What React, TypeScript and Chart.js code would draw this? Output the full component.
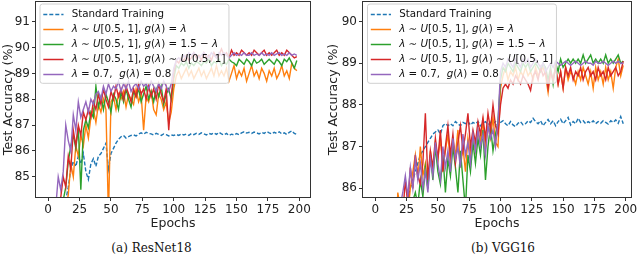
import React, { useEffect, useRef } from 'react';
import { Chart, registerables } from 'chart.js';

Chart.register(...registerables);

// ---------- data ----------
const EPOCHS = [
  0, 2, 4, 6, 8, 10, 12, 14, 16, 18,
  20, 22, 24, 26, 28, 30, 32, 34, 36, 38,
  40, 42, 44, 46, 48, 50, 52, 54, 56, 58,
  60, 62, 64, 66, 68, 70, 72, 74, 76, 78,
  80, 82, 84, 86, 88, 90, 92, 94, 96, 98,
  100, 102, 104, 106, 108, 110, 112, 114, 116, 118,
  120, 122, 124, 126, 128, 130, 132, 134, 136, 138,
  140, 142, 144, 146, 148, 150, 152, 154, 156, 158,
  160, 162, 164, 166, 168, 170, 172, 174, 176, 178,
  180, 182, 184, 186, 188, 190, 192, 194, 196, 198,
];

const SERIES_LABELS = [
  'Standard Training',
  'λ ∼ U[0.5, 1], g(λ) = λ',
  'λ ∼ U[0.5, 1], g(λ) = 1.5 − λ',
  'λ ∼ U[0.5, 1], g(λ) ∼ U[0.5, 1]',
  'λ = 0.7,  g(λ) = 0.8',
];
const SERIES_COLORS = ['#1f77b4', '#ff7f0e', '#2ca02c', '#d62728', '#9467bd'];

const X_TICKS = [0, 25, 50, 75, 100, 125, 150, 175, 200];
const RESNET_Y_TICKS = [85, 86, 87, 88, 89, 90, 91];
const VGG_Y_TICKS = [86, 87, 88, 89, 90];

// ResNet18
const RESNET_STD = [
  80.0, 81.6, 82.6, 83.2, 83.6, 83.9, 84.0, 84.1, 84.6, 85.3,
  85.6, 85.4, 85.8, 85.5, 85.9, 85.2, 84.9, 85.5, 85.7, 85.4,
  85.8, 85.9, 86.1, 86.3, 85.3, 85.9, 86.1, 86.3, 86.45, 86.55,
  86.6, 86.5, 86.55, 86.6, 86.62, 86.58, 86.65, 86.7, 86.65, 86.72,
  86.68, 86.66, 86.62, 86.68, 86.64, 86.6, 86.66, 86.63, 86.58, 86.62,
  86.6, 86.64, 86.6, 86.66, 86.62, 86.65, 86.6, 86.67, 86.63, 86.68,
  86.64, 86.7, 86.66, 86.62, 86.68, 86.65, 86.7, 86.64, 86.72, 86.66,
  86.62, 86.68, 86.6, 86.65, 86.62, 86.67, 86.63, 86.7, 86.74, 86.69,
  86.72, 86.68, 86.73, 86.7, 86.66, 86.72, 86.68, 86.75, 86.7, 86.66,
  86.72, 86.68, 86.74, 86.66, 86.7, 86.64, 86.72, 86.78, 86.68, 86.64,
];
const RESNET_LAM = [
  78.0, 79.5, 80.5, 81.5, 82.3, 83.0, 83.5, 83.8, 84.3, 85.5,
  85.0, 86.2, 85.8, 86.6, 86.2, 87.0, 86.5, 87.3, 87.6, 87.1,
  87.8, 87.5, 88.0, 87.6, 83.5, 87.9, 88.1, 87.6, 88.2, 88.0,
  88.3, 87.7, 88.2, 88.0, 87.8, 88.4, 87.9, 88.2, 86.8, 88.1,
  87.9, 88.3, 87.6, 87.4, 88.2, 88.0, 87.6, 87.9, 87.1, 87.5,
  88.4, 88.9, 89.1, 88.8, 89.0, 89.2, 88.9, 89.1, 88.8, 89.0,
  89.2, 88.9, 89.1, 88.8, 89.0, 89.2, 88.9, 89.3, 88.9, 89.1,
  88.9, 89.2, 88.7, 89.0, 89.3, 88.8, 89.1, 88.9, 89.2, 88.7,
  89.0, 89.3, 88.9, 89.1, 88.8, 89.2, 89.0, 88.7, 89.1, 88.9,
  89.2, 88.8, 89.0, 89.3, 88.9, 89.1, 88.8, 89.4, 89.2, 89.1,
];
const RESNET_LIN = [
  78.0, 79.5, 80.8, 82.0, 83.0, 83.6, 84.1, 84.6, 85.6, 86.2,
  86.6, 86.1, 86.9, 84.5, 86.8, 87.2, 86.9, 87.5, 87.3, 88.5,
  87.7, 88.1, 87.6, 88.2, 87.9, 87.5, 88.2, 88.0, 87.6, 88.3,
  87.9, 88.4, 88.0, 87.7, 88.3, 88.1, 88.4, 87.9, 88.2, 88.5,
  88.0, 88.3, 87.9, 88.4, 88.1, 88.5, 87.8, 88.2, 88.4, 88.0,
  88.8, 89.3, 89.2, 89.4, 89.3, 89.45, 89.2, 89.4, 89.3, 89.45,
  89.4, 89.3, 89.45, 89.4, 89.55, 89.3, 89.45, 89.4, 89.55, 89.3,
  89.45, 89.35, 89.55, 89.45, 89.4, 89.3, 89.55, 89.45, 89.35, 89.55,
  89.45, 89.3, 89.55, 89.4, 89.45, 89.55, 89.35, 89.45, 89.55, 89.45,
  89.35, 89.55, 89.45, 89.3, 89.55, 89.45, 89.6, 89.4, 89.2, 89.5,
];
const RESNET_UNI = [
  79.0, 80.5, 81.8, 83.0, 83.8, 84.2, 85.0, 84.6, 85.8, 85.3,
  86.8, 86.2, 87.0, 86.6, 87.5, 87.2, 87.6, 87.3, 87.9, 87.6,
  88.2, 87.8, 88.4, 88.0, 87.7, 88.3, 88.0, 88.5, 88.1, 88.4,
  88.0, 88.5, 88.2, 87.9, 88.4, 88.1, 88.6, 88.2, 88.4, 88.0,
  88.5, 88.1, 88.4, 88.0, 88.6, 88.2, 87.9, 88.4, 86.8, 88.1,
  89.0, 89.5, 89.4, 89.6, 89.5, 89.7, 89.5, 89.6, 89.8, 89.6,
  89.7, 89.5, 89.8, 89.6, 89.7, 89.5, 89.8, 89.6, 89.7, 89.95,
  89.7, 89.8, 89.6, 89.9, 89.7, 89.8, 89.7, 89.9, 89.8, 89.7,
  89.8, 89.7, 89.9, 89.8, 89.7, 89.8, 89.9, 89.7, 89.8, 89.7,
  89.8, 89.9, 89.7, 89.8, 89.7, 89.9, 89.8, 89.7, 89.6, 89.65,
];
const RESNET_FIX = [
  80.0, 81.5, 82.8, 83.8, 85.0, 84.5, 85.2, 87.0, 86.4, 86.0,
  87.4, 86.8, 87.9, 87.3, 87.6, 87.9, 87.5, 88.0, 87.8, 88.2,
  88.3, 88.0, 88.5, 88.2, 88.6, 88.3, 88.5, 88.4, 88.7, 88.3,
  88.6, 88.4, 88.7, 88.3, 88.5, 88.6, 88.4, 88.7, 88.5, 88.6,
  88.4, 88.7, 88.5, 88.3, 88.6, 88.4, 88.7, 88.5, 88.3, 88.6,
  89.2, 89.5, 89.6, 89.5, 89.7, 89.6, 89.8, 89.7, 89.8, 89.7,
  89.6, 89.7, 89.8, 89.7, 89.6, 89.8, 89.7, 89.6, 89.8, 89.7,
  89.8, 89.7, 89.6, 89.7, 89.8, 89.7, 89.75, 89.7, 89.8, 89.7,
  89.7, 89.8, 89.7, 89.75, 89.7, 89.8, 89.7, 89.75, 89.7, 89.8,
  89.7, 89.75, 89.8, 89.7, 89.75, 89.7, 89.8, 89.7, 89.75, 89.7,
];

// VGG16
const VGG_STD = [
  78.0, 79.5, 80.8, 81.8, 82.6, 83.3, 83.8, 84.2, 84.6, 84.9,
  85.2, 85.4, 85.6, 85.8, 86.0, 86.2, 86.4, 86.6, 86.8, 86.9,
  87.0, 87.1, 87.2, 87.3, 87.35, 87.4, 87.3, 87.5, 87.55, 87.5,
  87.55, 87.5, 87.6, 87.55, 87.5, 87.58, 87.55, 87.6, 87.52, 87.58,
  87.55, 87.6, 87.5, 87.56, 87.6, 87.52, 87.58, 87.55, 87.6, 87.5,
  87.58, 87.62, 87.55, 87.5, 87.6, 87.52, 87.48, 87.56, 87.6, 87.52,
  87.55, 87.62, 87.58, 87.68, 87.6, 87.55, 87.62, 87.5, 87.58, 87.65,
  87.55, 87.62, 87.5, 87.6, 87.66, 87.55, 87.62, 87.7, 87.52, 87.6,
  87.55, 87.68, 87.58, 87.62, 87.55, 87.6, 87.56, 87.62, 87.55, 87.6,
  87.56, 87.62, 87.58, 87.54, 87.62, 87.58, 87.64, 87.56, 87.72, 87.55,
];
const VGG_LAM = [
  76.0, 78.0, 79.5, 80.5, 81.5, 82.5, 83.3, 84.0, 84.6, 85.9,
  85.5, 85.3, 85.7, 85.4, 86.0, 86.4, 86.8, 86.2, 87.0, 86.3,
  86.6, 86.0, 86.9, 86.4, 87.1, 86.7, 87.2, 86.5, 86.9, 87.3,
  86.6, 87.1, 86.8, 87.4, 86.5, 87.0, 86.4, 87.2, 86.8, 87.3,
  86.9, 87.4, 87.1, 87.6, 87.0, 87.5, 87.2, 87.7, 87.1, 87.0,
  88.4, 88.7, 88.9, 88.6, 88.8, 88.7, 88.9, 88.6, 88.8, 88.7,
  88.9, 88.7, 88.8, 88.6, 88.9, 88.7, 88.8, 88.9, 88.7, 88.3,
  88.8, 88.6, 88.9, 88.5, 88.8, 88.4, 88.9, 88.6, 88.8, 88.7,
  88.5, 88.8, 88.6, 88.9, 88.7, 88.5, 88.8, 88.4, 88.9, 88.6,
  88.8, 88.5, 88.9, 88.6, 88.8, 88.4, 88.9, 89.1, 88.7, 88.95,
];
const VGG_LIN = [
  76.0, 77.5, 79.0, 80.2, 81.3, 82.2, 83.0, 83.6, 84.1, 84.5,
  84.9, 85.2, 85.4, 85.6, 85.5, 85.7, 85.9, 85.6, 86.2, 85.8,
  86.5, 86.0, 86.8, 86.2, 87.0, 86.4, 86.1, 86.8, 85.9, 86.7,
  86.3, 87.0, 86.5, 85.9, 86.9, 86.2, 85.5, 86.8, 86.4, 87.1,
  86.6, 87.2, 86.8, 87.4, 86.2, 87.0, 87.5, 86.9, 87.3, 87.6,
  88.6, 88.9, 88.8, 89.0, 88.9, 88.8, 89.0, 88.9, 88.8, 89.0,
  88.9, 89.0, 88.8, 88.9, 89.0, 88.9, 88.8, 89.0, 88.9, 88.6,
  88.9, 88.5, 89.0, 88.8, 89.1, 88.9, 89.0, 89.1, 89.0, 89.1,
  89.0, 89.1, 89.0, 89.2, 89.0, 89.1, 89.2, 89.0, 89.1, 89.0,
  89.1, 89.0, 89.2, 89.0, 89.1, 89.0, 89.1, 89.2, 89.0, 89.05,
];
const VGG_UNI = [
  77.0, 78.5, 80.0, 81.2, 82.3, 83.2, 84.0, 84.7, 85.2, 85.5,
  85.7, 85.4, 86.2, 85.6, 86.5, 86.0, 86.8, 86.3, 86.1, 86.6,
  87.8, 86.2, 86.9, 86.5, 87.2, 86.7, 87.4, 86.4, 87.0, 87.5,
  86.8, 87.3, 86.6, 87.1, 87.5, 86.9, 87.3, 87.8, 87.0, 87.4,
  87.1, 87.6, 87.3, 87.7, 87.2, 87.8, 87.4, 88.0, 87.5, 87.3,
  88.0, 88.4, 88.5, 88.4, 88.6, 88.5, 88.7, 88.6, 88.5, 88.7,
  88.6, 88.5, 88.35, 88.7, 88.8, 88.6, 88.9, 88.7, 88.8, 88.4,
  88.8, 88.6, 88.9, 88.5, 88.8, 88.4, 88.9, 88.7, 88.9, 88.6,
  88.8, 88.7, 88.9, 88.6, 88.8, 88.9, 88.7, 88.8, 88.6, 88.9,
  88.7, 88.8, 88.6, 88.9, 88.7, 88.8, 88.9, 88.7, 88.8, 89.05,
];
const VGG_FIX = [
  77.0, 78.5, 80.0, 81.2, 82.2, 83.0, 83.8, 84.5, 85.0, 85.4,
  85.6, 85.9, 86.3, 85.8, 86.5, 86.0, 86.7, 86.2, 86.6, 86.0,
  86.4, 85.9, 86.7, 86.3, 87.1, 86.6, 86.2, 87.0, 86.5, 86.9,
  86.4, 87.2, 86.7, 87.0, 86.5, 87.3, 86.8, 87.1, 86.6, 87.3,
  86.9, 87.4, 87.0, 87.3, 86.8, 87.5, 87.2, 87.4, 87.0, 87.6,
  88.8, 89.0, 88.9, 89.1, 89.0, 88.9, 89.1, 89.0, 88.9, 89.1,
  89.0, 89.1, 88.9, 89.0, 89.1, 89.0, 88.9, 89.0, 88.8, 88.9,
  89.0, 88.9, 89.05, 89.0, 88.95, 89.0, 89.05, 89.0, 88.95, 89.0,
  89.05, 89.0, 88.95, 89.0, 89.05, 89.0, 89.0, 88.95, 89.05, 89.0,
  89.0, 89.05, 89.0, 88.95, 89.0, 89.05, 89.0, 89.05, 89.0, 89.0,
];

// ---------- rendering ----------
const FONT = "'DejaVu Sans', sans-serif";
const CANVAS_H = 232;
const AREA_BOTTOM = 197.5;
const AREA_TOP = 1.5;

const framePlugin = {
  id: 'frame',
  afterDraw(chart: any) {
    const { ctx, chartArea: a } = chart;
    ctx.save();
    ctx.strokeStyle = '#333';
    ctx.lineWidth = 1;
    ctx.strokeRect(a.left, a.top, a.right - a.left, a.bottom - a.top);
    ctx.restore();
  },
};

function drawMathLabel(ctx: CanvasRenderingContext2D, text: string, x: number, y: number, size: number, draw: boolean) {
  const isMath = text.includes('λ');
  let cx = x;
  for (const ch of Array.from(text)) {
    const italic = isMath && (ch === 'λ' || ch === 'U' || ch === 'g');
    ctx.font = `${italic ? 'italic ' : ''}${size}px ${FONT}`;
    if (draw) ctx.fillText(ch, cx, y);
    cx += ctx.measureText(ch).width;
  }
  return cx - x;
}

const legendPlugin = {
  id: 'boxLegend',
  afterDraw(chart: any, _args: any, opts: any) {
    const { ctx, chartArea: a } = chart;
    const ds = chart.data.datasets;
    const size = 10.3;
    const x0 = a.left + opts.dx;
    const y0 = a.top + opts.dy;
    const rowH = 15;
    const first = 10.5;
    const textOff = 31.7;
    ctx.save();
    const widths = ds.map((d: any) => drawMathLabel(ctx, d.label, 0, 0, size, false));
    const w = textOff + Math.max(...widths) + 3.5;
    const h = first + rowH * (ds.length - 1) + 8.8;
    const r = 2.5;
    ctx.beginPath();
    ctx.moveTo(x0 + r, y0);
    ctx.arcTo(x0 + w, y0, x0 + w, y0 + h, r);
    ctx.arcTo(x0 + w, y0 + h, x0, y0 + h, r);
    ctx.arcTo(x0, y0 + h, x0, y0, r);
    ctx.arcTo(x0, y0, x0 + w, y0, r);
    ctx.closePath();
    ctx.fillStyle = 'rgba(255,255,255,0.8)';
    ctx.fill();
    ctx.strokeStyle = '#d0d0d0';
    ctx.lineWidth = 1;
    ctx.stroke();
    ds.forEach((d: any, i: number) => {
      const yy = y0 + first + i * rowH;
      ctx.beginPath();
      ctx.strokeStyle = d.borderColor;
      ctx.lineWidth = 1.5;
      ctx.setLineDash(d.borderDash || []);
      ctx.moveTo(x0 + 3.3, yy);
      ctx.lineTo(x0 + 23.5, yy);
      ctx.stroke();
      ctx.setLineDash([]);
      ctx.fillStyle = '#111';
      ctx.textBaseline = 'middle';
      ctx.textAlign = 'left';
      drawMathLabel(ctx, d.label, x0 + textOff, yy, size, true);
    });
    ctx.restore();
  },
};

type PanelProps = {
  left: number;
  width: number;
  areaLeft: number;
  areaRight: number;
  xMin: number;
  xMax: number;
  yMin: number;
  yMax: number;
  yTicks: number[];
  series: number[][];
  yTitleOffset: number;
  legendDx: number;
};

function Panel(p: PanelProps) {
  const ref = useRef<HTMLCanvasElement | null>(null);
  useEffect(() => {
    if (!ref.current) return;
    const chart = new Chart(ref.current, {
      type: 'line',
      data: {
        datasets: p.series.map((vals, i) => ({
          label: SERIES_LABELS[i],
          data: vals.map((v, j) => ({ x: EPOCHS[j], y: v })),
          borderColor: SERIES_COLORS[i],
          backgroundColor: SERIES_COLORS[i],
          borderWidth: 1.4,
          borderDash: i === 0 ? [4, 2] : [],
          pointRadius: 0,
          tension: 0,
          fill: false,
          order: 5 - i,
          clip: 0,
        })),
      },
      options: {
        responsive: false,
        animation: false,
        events: [],
        devicePixelRatio: 1,
        layout: { padding: { left: 0, top: AREA_TOP, right: p.width - p.areaRight, bottom: 0 } },
        plugins: {
          legend: { display: false },
          tooltip: { enabled: false },
          boxLegend: { dx: p.legendDx, dy: 2.5 },
        } as any,
        scales: {
          x: {
            type: 'linear',
            min: p.xMin,
            max: p.xMax,
            afterBuildTicks: (s: any) => {
              s.ticks = X_TICKS.map((v) => ({ value: v }));
            },
            afterFit: (s: any) => {
              s.height = CANVAS_H - AREA_BOTTOM;
              s.paddingLeft = 0;
              s.paddingRight = 0;
            },
            grid: { drawOnChartArea: false, drawTicks: true, tickLength: 3.5, tickColor: '#333', tickWidth: 1 },
            border: { display: false },
            ticks: { font: { family: FONT, size: 12 }, color: '#222', padding: 1.6, maxRotation: 0, autoSkip: false },
            title: {
              display: true,
              text: 'Epochs',
              font: { family: FONT, size: 12.5, lineHeight: 1.2 },
              color: '#222',
              padding: { top: 0, bottom: 0.5 },
            },
          },
          y: {
            type: 'linear',
            min: p.yMin,
            max: p.yMax,
            afterBuildTicks: (s: any) => {
              s.ticks = p.yTicks.map((v) => ({ value: v }));
            },
            afterFit: (s: any) => {
              s.width = p.areaLeft;
              s.paddingTop = 0;
              s.paddingBottom = 0;
            },
            grid: { drawOnChartArea: false, drawTicks: true, tickLength: 3.5, tickColor: '#333', tickWidth: 1 },
            border: { display: false },
            ticks: { font: { family: FONT, size: 12 }, color: '#222', padding: 2 },
            title: {
              display: true,
              text: 'Test Accuracy (%)',
              font: { family: FONT, size: 12.5, lineHeight: 1.2 },
              color: '#222',
              padding: { top: p.yTitleOffset - 7.5, bottom: 0 },
            },
          },
        },
      } as any,
      plugins: [framePlugin, legendPlugin],
    });
    return () => chart.destroy();
  }, []);
  return (
    <canvas
      ref={ref}
      width={p.width}
      height={CANVAS_H}
      style={{ position: 'absolute', left: p.left, top: 0, width: p.width, height: CANVAS_H }}
    />
  );
}

const captionStyle: React.CSSProperties = {
  position: 'absolute',
  top: 241,
  width: 200,
  textAlign: 'center',
  fontFamily: "'DejaVu Serif', serif",
  fontSize: 12,
  lineHeight: '15px',
  color: '#111',
  whiteSpace: 'pre',
};

export default function App() {
  return (
    <div style={{ position: 'fixed', left: 0, top: 0, width: 640, height: 257, background: '#fff', overflow: 'hidden' }}>
      <Panel
        left={0}
        width={320}
        areaLeft={35.5}
        areaRight={310.5}
        xMin={-10.1}
        xMax={208.9}
        yMin={84.2}
        yMax={91.78}
        yTicks={RESNET_Y_TICKS}
        series={[RESNET_STD, RESNET_LAM, RESNET_LIN, RESNET_UNI, RESNET_FIX]}
        yTitleOffset={8.5}
        legendDx={4.5}
      />
      <Panel
        left={320}
        width={320}
        areaLeft={42.5}
        areaRight={311.5}
        xMin={-10.2}
        xMax={204.6}
        yMin={85.78}
        yMax={90.48}
        yTicks={VGG_Y_TICKS}
        series={[VGG_STD, VGG_LAM, VGG_LIN, VGG_UNI, VGG_FIX]}
        yTitleOffset={13.3}
        legendDx={5}
      />
      <div style={{ ...captionStyle, left: 151.5 - 100 }}>(a) ResNet18</div>
      <div style={{ ...captionStyle, left: 503 - 100 }}>(b) VGG16</div>
    </div>
  );
}
